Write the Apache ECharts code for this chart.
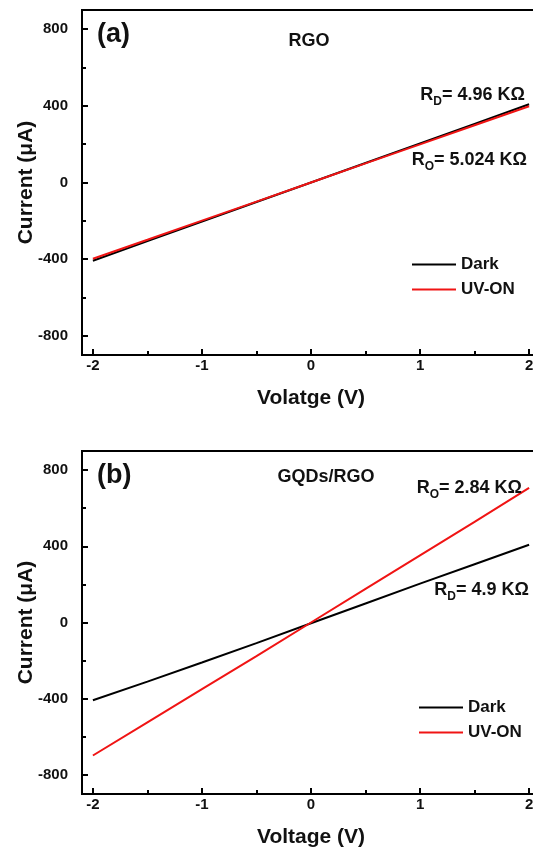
<!DOCTYPE html>
<html>
<head>
<meta charset="utf-8">
<script src="https://cdn.jsdelivr.net/npm/echarts@6/dist/echarts.min.js"></script>
<style>
  html, body { margin: 0; padding: 0; background: #fff; }
  #chart { width: 533px; height: 850px; }
</style>
</head>
<body>
<div id="chart"></div>
<script>
// Sweep voltages (V)
const voltage = [-2, -1.5, -1, -0.5, 0, 0.5, 1, 1.5, 2];
// (a) RGO currents (μA)
const rgoDark = [-408, -306, -204, -102, 0, 102, 204, 306, 408];
const rgoUv   = [-398, -299, -199, -100, 0, 100, 199, 299, 398];
// (b) GQDs/RGO currents (μA)
const gqdDark = [-408, -310, -210, -108, -4, 100, 204, 306, 408];
const gqdUv   = [-698, -524, -350, -176, 0, 176, 352, 528, 706];

const xMajor = [-2, -1, 0, 1, 2];
const xMinor = [-1.5, -0.5, 0.5, 1.5];
const yMajor = [-800, -400, 0, 400, 800];
const yMinor = [-600, -200, 200, 600];

const FONT = '"Liberation Sans", Arial, sans-serif';
const pairs = (xs, ys) => xs.map((x, i) => [x, ys[i]]);

// plot frames; the right edge runs past the canvas
const grids = [
  { left: 82, top: 10, width: 458, height: 345 },
  { left: 82, top: 451, width: 458, height: 343 }
];

function xAxes(gi, title) {
  return [
    {
      type: 'value', gridIndex: gi, min: -2.1, max: 2.1,
      name: title, nameLocation: 'middle', nameGap: 33,
      nameTextStyle: { fontFamily: FONT, fontWeight: 'bold', fontSize: 21, color: '#111' },
      axisLine: { onZero: false, lineStyle: { color: '#000', width: 2 } },
      axisTick: { inside: true, length: 6, customValues: xMajor, lineStyle: { color: '#000', width: 2 } },
      axisLabel: { customValues: xMajor, fontFamily: FONT, fontWeight: 'bold', fontSize: 15, color: '#111', margin: 3 },
      splitLine: { show: false }
    },
    {
      type: 'value', gridIndex: gi, min: -2.1, max: 2.1, position: 'bottom',
      axisLine: { show: false, onZero: false },
      axisTick: { inside: true, length: 4, customValues: xMinor, lineStyle: { color: '#000', width: 2 } },
      axisLabel: { show: false },
      splitLine: { show: false }
    }
  ];
}

function yAxes(gi) {
  return [
    {
      type: 'value', gridIndex: gi, min: -900, max: 900,
      name: 'Current (μA)', nameLocation: 'middle', nameGap: 45, nameRotate: 90,
      nameMoveOverlap: false,
      nameTextStyle: { fontFamily: FONT, fontWeight: 'bold', fontSize: 21, color: '#111' },
      axisLine: { onZero: false, lineStyle: { color: '#000', width: 2 } },
      axisTick: { inside: true, length: 6, customValues: yMajor, lineStyle: { color: '#000', width: 2 } },
      axisLabel: { customValues: yMajor, fontFamily: FONT, fontWeight: 'bold', fontSize: 15, color: '#111', margin: 14 },
      splitLine: { show: false }
    },
    {
      type: 'value', gridIndex: gi, min: -900, max: 900, position: 'left',
      axisLine: { show: false, onZero: false },
      axisTick: { inside: true, length: 4, customValues: yMinor, lineStyle: { color: '#000', width: 2 } },
      axisLabel: { show: false },
      splitLine: { show: false }
    }
  ];
}

function line(name, xi, yi, data, color) {
  return {
    name, type: 'line', xAxisIndex: xi, yAxisIndex: yi,
    data, showSymbol: false, symbol: 'none',
    lineStyle: { color, width: 2 }, itemStyle: { color },
    animation: false
  };
}

function txt(x, y, text, size, align) {
  return {
    type: 'text', x, y, z: 100,
    style: { text, fontFamily: FONT, fontWeight: 'bold', fontSize: size, fill: '#111', textAlign: align || 'left', textVerticalAlign: 'middle' }
  };
}

function rLabel(x, y, sub, val) {
  return {
    type: 'text', x, y, z: 100,
    style: {
      text: '{r|R}{s|' + sub + '}{r|= ' + val + ' KΩ}',
      rich: {
        r: { fontFamily: FONT, fontWeight: 'bold', fontSize: 18, fill: '#111' },
        s: { fontFamily: FONT, fontWeight: 'bold', fontSize: 12, fill: '#111', padding: [14, 0, 0, 0] }
      },
      textAlign: 'right', textVerticalAlign: 'middle'
    }
  };
}

function legend(left, top) {
  return {
    data: ['Dark', 'UV-ON'], orient: 'vertical', left, top,
    itemWidth: 44, itemHeight: 2, itemGap: 8, icon: 'rect',
    textStyle: { fontFamily: FONT, fontWeight: 'bold', fontSize: 17, color: '#111' }
  };
}

const RED = '#f01414';

const option = {
  backgroundColor: '#fff',
  animation: false,
  grid: grids.map(g => Object.assign({
    show: true, borderColor: '#000', borderWidth: 2, outerBoundsMode: 'none', containLabel: false
  }, g)),
  xAxis: [...xAxes(0, 'Volatge (V)'), ...xAxes(1, 'Voltage (V)')],
  yAxis: [...yAxes(0), ...yAxes(1)],
  legend: [legend(407, 251), legend(414, 694)],
  series: [
    line('Dark', 0, 0, pairs(voltage, rgoDark), '#000'),
    line('UV-ON', 0, 0, pairs(voltage, rgoUv), RED),
    line('Dark', 2, 2, pairs(voltage, gqdDark), '#000'),
    line('UV-ON', 2, 2, pairs(voltage, gqdUv), RED)
  ],
  graphic: [
    txt(97, 35, '(a)', 27),
    txt(309, 41, 'RGO', 18, 'center'),
    rLabel(525, 95, 'D', '4.96'),
    rLabel(527, 160, 'O', '5.024'),
    txt(97, 476, '(b)', 27),
    txt(326, 477, 'GQDs/RGO', 18, 'center'),
    rLabel(522, 488, 'O', '2.84'),
    rLabel(529, 590, 'D', '4.9')
  ]
};

const chart = echarts.init(document.getElementById('chart'), null, { renderer: 'canvas' });
chart.setOption(option);
</script>
</body>
</html>
